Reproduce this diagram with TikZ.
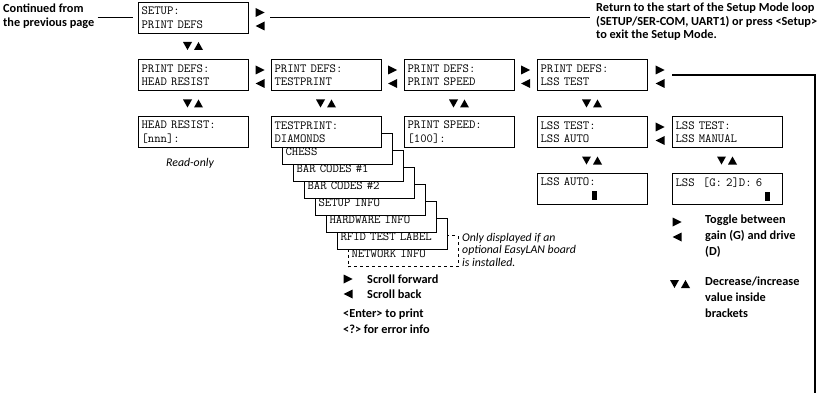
\documentclass[tikz,border=0pt]{standalone}
\usepackage{fontspec}
\setmainfont{Carlito}
\tikzset{
  tri right/.pic={\fill (-4.5,-4.5) -- (4.5,0) -- (-4.5,4.5) -- cycle;},
  tri left/.pic={\fill (4.5,-4.5) -- (-4.5,0) -- (4.5,4.5) -- cycle;},
  tri downup/.pic={\fill (-10,-4) -- (-1,-4) -- (-5.5,4) -- cycle;
                   \fill (1,4) -- (10,4) -- (5.5,-4) -- cycle;},
}
\newcommand{\lrpair}[2]{\pic at (#1,#2-5) {tri right}; \pic at (#1,#2+8.5) {tri left};}
\begin{document}
\begin{tikzpicture}[x=1pt, y=-1pt,
  lcd/.style={draw, line width=0.9pt, fill=white, minimum width=110pt,
    minimum height=31pt, text width=103pt, inner xsep=3.5pt, inner ysep=0pt,
    align=left, font=\ttfamily\fontsize{12.4}{13.5}\selectfont},
  note/.style={inner sep=0pt, align=left, font=\bfseries\fontsize{12.3}{13.2}\selectfont},
  legend/.style={note, font=\bfseries\fontsize{12.3}{16}\selectfont},
  remark/.style={inner sep=0pt, align=left, font=\itshape\fontsize{11.8}{12.5}\selectfont},
  conn/.style={line width=1.3pt}]
  \useasboundingbox (0,0) rectangle (823,396);
  % Kopfzeile
  \node[note, anchor=north west] (cont) at (3,4) {Continued from\\the previous page};
  \node[lcd] (setup) at (193,17.5) {SETUP:\\PRINT DEFS};
  \node[note, anchor=north west] (ret) at (596,3) {Return to the start of the Setup Mode loop\\(SETUP/SER-COM, UART1) or press <Setup>\\to exit the Setup Mode.};
  \draw[conn, shorten <=3pt, shorten >=5pt] (setup.west -| cont.east) -- (setup.west);
  \draw[conn, shorten <=22pt, shorten >=6pt] (setup.east) -- (setup.east -| ret.west);
  \lrpair{260}{17.5}
  \pic at (193,46) {tri downup};
  % PRINT DEFS Reihe
  \node[lcd] (hdres) at (193,75) {PRINT DEFS:\\HEAD RESIST};
  \node[lcd] (testp) at (326,75) {PRINT DEFS:\\TESTPRINT};
  \node[lcd] (speed) at (459,75) {PRINT DEFS:\\PRINT SPEED};
  \node[lcd] (lsstest) at (592,75) {PRINT DEFS:\\LSS TEST};
  \foreach \x in {260,392.5,525.5,660} {\lrpair{\x}{75}}
  \foreach \x in {193,326,459,592} \pic at (\x,103.5) {tri downup};
  % Schleife zurueck
  \coordinate (loopend) at (815,393);
  \draw[conn, shorten <=25pt] (lsstest.east) -- (lsstest.east -| loopend) -- (loopend);
  % Testdruck-Stapel (hinten nach vorne)
  \node[lcd, dashed] (card7) at (326+77,132+119) {\mbox{}\\NETWORK INFO};
  \foreach \i/\txt in {6/RFID TEST LABEL,5/HARDWARE INFO,4/SETUP INFO,
                       3/BAR CODES \#2,2/BAR CODES \#1,1/CHESS}
    \node[lcd] (card\i) at (326+11*\i,132+17*\i) {\mbox{}\\\txt};
  % Werte
  \node[lcd] (headval) at (193,132) {HEAD RESIST:\\{}[nnn]:};
  \node[lcd] (diamonds) at (326,132) {TESTPRINT:\\DIAMONDS};
  \node[lcd] (speedval) at (459,132) {PRINT SPEED:\\{}[100]:};
  \node[lcd] (lssauto) at (592,132) {LSS TEST:\\LSS AUTO};
  \node[lcd] (lssman) at (727,132) {LSS TEST:\\LSS MANUAL};
  \lrpair{660}{132}
  \pic at (592,160.5) {tri downup};
  \pic at (727,160.5) {tri downup};
  \node[lcd] (autoval) at (592,189) {LSS AUTO:\\\phantom{XXXXXXXX}\rule[-1pt]{5.5pt}{9pt}};
  \node[lcd] (manval) at (727,189) {LSS\ \ [G: 2]D: 6\\\phantom{XXXXXXXXXXXXXX}\rule[-1pt]{5.5pt}{9pt}};
  % Hinweise
  \node[remark] (ro) at (190,163) {Read-only};
  \node[remark, anchor=north west] (onlynote) at (462,233) {Only displayed if an\\optional EasyLAN board\\is installed.};
  \pic at (348,279) {tri right};
  \node[legend, anchor=west] (fwd) at (367,279) {Scroll forward};
  \pic at (348,294) {tri left};
  \node[legend, anchor=west] (bwd) at (367,294) {Scroll back};
  \node[legend, anchor=north west] (keys) at (343,309) {<Enter> to print\\<?> for error info};
  \pic at (677,222) {tri right};
  \pic at (677,237) {tri left};
  \node[legend, anchor=north west] (toggle) at (705,215) {Toggle between\\gain (G) and drive\\(D)};
  \pic at (680,284) {tri downup};
  \node[legend, anchor=north west] (decr) at (705,277) {Decrease/increase\\value inside\\brackets};
\end{tikzpicture}
\end{document}
